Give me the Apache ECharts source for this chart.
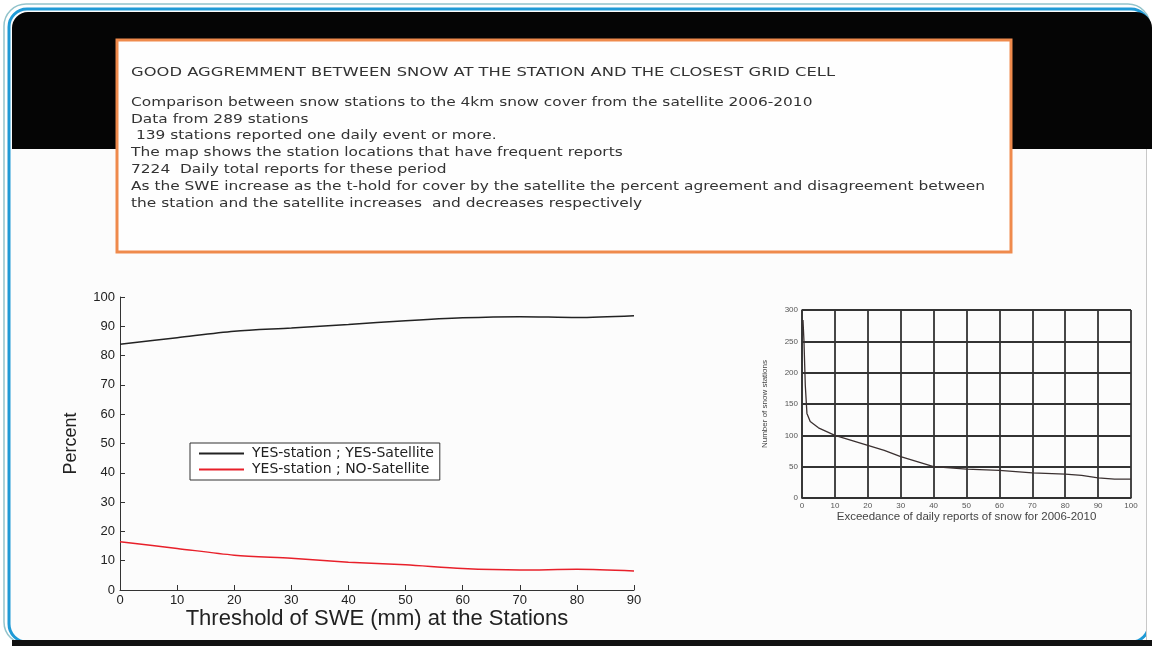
<!DOCTYPE html>
<html>
<head>
<meta charset="utf-8">
<script src="https://cdn.jsdelivr.net/npm/echarts@6/dist/echarts.min.js"></script>
<style>
html,body{margin:0;padding:0;background:#ffffff;}
#main{width:1154px;height:646px;}
</style>
</head>
<body>
<div id="main"></div>
<script>
// ---- data ----
var sweThreshold = [0, 10, 20, 30, 40, 50, 60, 70, 80, 90];
var yesYes = [83.9, 86.1, 88.3, 89.4, 90.6, 91.9, 92.9, 93.3, 93.0, 93.6];
var yesNo  = [16.5, 14.2, 11.9, 10.8, 9.5, 8.6, 7.3, 6.8, 7.1, 6.5];
var seriesNames = ['YES-station ; YES-Satellite', 'YES-station ; NO-Satellite'];

var exceedance = [0.3, 0.6, 1.0, 1.5, 2.5, 5, 10, 15, 20, 25, 30, 35, 40, 45, 50, 60, 70, 80, 85, 90, 95, 100];
var stationCount = [284, 250, 180, 135, 122, 112, 100, 92, 84, 76, 66, 58, 50, 48, 46, 44, 40, 38, 36, 32, 30, 30];

var noteTitle = 'GOOD AGGREMMENT BETWEEN SNOW AT THE STATION AND THE CLOSEST GRID CELL';
var noteLines = [
  'Comparison between snow stations to the 4km snow cover from the satellite 2006-2010',
  'Data from 289 stations',
  ' 139 stations reported one daily event or more.',
  'The map shows the station locations that have frequent reports',
  '7224  Daily total reports for these period',
  'As the SWE increase as the t-hold for cover by the satellite the percent agreement and disagreement between',
  'the station and the satellite increases  and decreases respectively'
];

function pairs(xs, ys){ return xs.map(function(x,i){ return [x, ys[i]]; }); }

var noteFont = 'DejaVu Sans';
var graphics = [
  {type:'rect', shape:{x:4,y:4,width:1146,height:640,r:22}, style:{fill:'none',stroke:'#93c4cc',lineWidth:1.5}, z:0},
  {type:'rect', shape:{x:9,y:9,width:1140,height:633,r:18}, style:{fill:'#fcfcfc',stroke:'#1f9ad6',lineWidth:3}, z:0},
  {type:'rect', shape:{x:12,y:12,width:1140,height:137,r:[16,16,0,0]}, style:{fill:'#050505'}, z:0},
  {type:'rect', shape:{x:1146,y:149,width:8,height:492}, style:{fill:'#ffffff'}, z:0},
  {type:'rect', shape:{x:1146,y:149,width:1,height:492}, style:{fill:'#c8c8c8'}, z:0},
  {type:'rect', shape:{x:12,y:640,width:1140,height:6}, style:{fill:'#111'}, z:0},
  {type:'rect', shape:{x:117,y:40,width:894,height:212}, style:{fill:'#fefefe',stroke:'#ef8a4c',lineWidth:3}, z:1},
  {type:'text', x:131, y:66, scaleX:1.257, style:{text:noteTitle, fill:'#333', font:'13px "' + noteFont + '"'}, z:2}
];
noteLines.forEach(function(t, i){
  graphics.push({type:'text', x:131, y:96 + i*16.8, scaleX:1.184, style:{text:t, fill:'#333', font:'13px "' + noteFont + '"'}, z:2});
});

var chart = echarts.init(document.getElementById('main'));
chart.setOption({
  backgroundColor: '#ffffff',
  animation: false,
  graphic: graphics,
  legend: {
    data: seriesNames.map(function(n){ return {name:n, icon:'rect'}; }),
    orient: 'vertical',
    left: 190, top: 443,
    backgroundColor: '#fff',
    borderColor: '#333', borderWidth: 1, borderRadius: 0,
    padding: [3, 6, 3, 9],
    itemGap: 1,
    itemWidth: 45, itemHeight: 2,
    textStyle: {fontFamily: 'DejaVu Sans', fontSize: 14, lineHeight: 15, color: '#222', padding: [0, 0, 0, 3]},
    z: 10
  },
  grid: [
    {left:120, top:297, width:514, height:293},
    {left:802, top:310, width:329, height:188}
  ],
  xAxis: [
    {
      gridIndex:0, type:'value', min:0, max:90, interval:10,
      name:'Threshold of SWE (mm) at the Stations', nameLocation:'middle', nameGap:16,
      nameTextStyle:{fontFamily:'Liberation Sans', fontSize:22, color:'#222'},
      axisLine:{lineStyle:{color:'#333', width:1}},
      axisTick:{inside:true, length:5, lineStyle:{color:'#333'}},
      axisLabel:{margin:4, fontFamily:'Liberation Sans', fontSize:13, color:'#222'},
      splitLine:{show:false}
    },
    {
      gridIndex:1, type:'value', min:0, max:100, interval:10,
      name:'Exceedance of daily reports of snow for 2006-2010', nameLocation:'middle', nameGap:12,
      nameTextStyle:{fontFamily:'Liberation Sans', fontSize:11.5, color:'#444'},
      axisLine:{lineStyle:{color:'#333', width:1.5}},
      axisTick:{show:false},
      axisLabel:{margin:4, fontFamily:'Liberation Sans', fontSize:8, color:'#555'},
      splitLine:{show:true, lineStyle:{color:'#333', width:1.8}}
    }
  ],
  yAxis: [
    {
      gridIndex:0, type:'value', min:0, max:100, interval:10,
      name:'Percent', nameLocation:'middle', nameGap:40, nameRotate:90,
      nameTextStyle:{fontFamily:'Liberation Sans', fontSize:18, color:'#222'},
      axisLine:{show:true, lineStyle:{color:'#333', width:1}},
      axisTick:{show:true, inside:true, length:5, lineStyle:{color:'#333'}},
      axisLabel:{margin:5, fontFamily:'Liberation Sans', fontSize:13, color:'#222'},
      splitLine:{show:false}
    },
    {
      gridIndex:1, type:'value', min:0, max:300, interval:50,
      name:'Number of snow stations', nameLocation:'middle', nameGap:33, nameRotate:90,
      nameTextStyle:{fontFamily:'Liberation Sans', fontSize:8, color:'#444'},
      axisLine:{show:true, lineStyle:{color:'#333', width:1.5}},
      axisTick:{show:false},
      axisLabel:{margin:4, fontFamily:'Liberation Sans', fontSize:8, color:'#555'},
      splitLine:{show:true, lineStyle:{color:'#333', width:1.8}}
    }
  ],
  series: [
    {
      name: seriesNames[0], type:'line', xAxisIndex:0, yAxisIndex:0,
      data: pairs(sweThreshold, yesYes), symbol:'none', smooth:0.3,
      lineStyle:{color:'#222', width:1.5}, itemStyle:{color:'#222'}
    },
    {
      name: seriesNames[1], type:'line', xAxisIndex:0, yAxisIndex:0,
      data: pairs(sweThreshold, yesNo), symbol:'none', smooth:0.3,
      lineStyle:{color:'#e8202a', width:1.5}, itemStyle:{color:'#e8202a'}
    },
    {
      name: 'Stations', type:'line', xAxisIndex:1, yAxisIndex:1,
      data: pairs(exceedance, stationCount), symbol:'none',
      lineStyle:{color:'#3a3030', width:1.3}, itemStyle:{color:'#3a3030'}
    }
  ]
});
</script>
</body>
</html>
